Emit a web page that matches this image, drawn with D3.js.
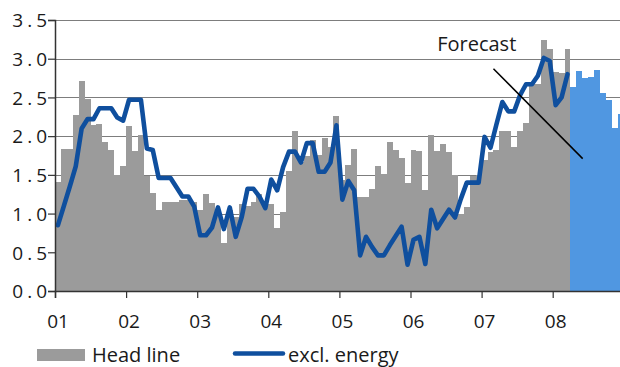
<!DOCTYPE html>
<html>
<head>
<meta charset="utf-8">
<script src="https://cdn.jsdelivr.net/npm/d3@7"></script>
<style>
  html, body { margin: 0; padding: 0; background: #fff; }
  svg { display: block; }
  text { font-family: "Open Sans", "Noto Sans", sans-serif; fill: #1a1a1a; }
</style>
</head>
<body>
<svg id="chart" width="620" height="367"></svg>
<script>
// ---------- data ----------
const yearLabels = ["01", "02", "03", "04", "05", "06", "07", "08"];
const yTicks = [0, 0.5, 1, 1.5, 2, 2.5, 3, 3.5];

// Head line (monthly, Jan 2001 - Mar 2008)
const headline = [
  1.41, 1.83, 1.83, 2.27, 2.71, 2.48, 2.15, 2.16, 1.92, 1.82, 1.50, 1.61,
  2.13, 1.81, 2.01, 1.49, 1.27, 1.05, 1.15, 1.15, 1.15, 1.18, 1.18, 1.15,
  1.05, 1.25, 1.14, 1.00, 0.62, 1.05, 0.95, 1.13, 1.10, 1.15, 1.25, 1.14,
  1.13, 0.82, 1.02, 1.55, 2.07, 1.66, 1.75, 1.95, 1.76, 1.97, 1.86, 2.26,
  1.43, 1.63, 1.83, 1.21, 1.21, 1.32, 1.61, 1.51, 1.92, 1.82, 1.72, 1.39,
  1.82, 1.81, 1.30, 2.01, 1.81, 1.90, 1.80, 1.50, 0.99, 1.09, 1.49, 1.50,
  1.69, 1.80, 1.82, 2.07, 2.07, 1.86, 2.06, 2.17, 2.67, 2.67, 3.24, 3.13,
  2.83, 2.82, 3.13
];
// Forecast (Apr 2008 - Dec 2008)
const forecast = [2.64, 2.84, 2.75, 2.76, 2.85, 2.56, 2.47, 2.11, 2.29];

// excl. energy (monthly, Jan 2001 - Mar 2008)
const exclEnergy = [
  0.85, 1.10, 1.35, 1.61, 2.10, 2.22, 2.22, 2.36, 2.36, 2.36, 2.24, 2.20,
  2.47, 2.47, 2.47, 1.84, 1.82, 1.46, 1.46, 1.46, 1.34, 1.22, 1.22, 1.09,
  0.72, 0.72, 0.82, 1.08, 0.80, 1.08, 0.70, 0.95, 1.32, 1.32, 1.22, 1.07,
  1.44, 1.30, 1.60, 1.80, 1.80, 1.66, 1.91, 1.91, 1.54, 1.54, 1.66, 2.14,
  1.18, 1.42, 1.30, 0.46, 0.70, 0.57, 0.46, 0.46, 0.59, 0.71, 0.83, 0.34,
  0.66, 0.70, 0.35, 1.05, 0.81, 0.93, 1.05, 0.95, 1.19, 1.40, 1.40, 1.40,
  1.99, 1.85, 2.15, 2.44, 2.32, 2.32, 2.53, 2.67, 2.67, 2.78, 3.01, 2.97,
  2.40, 2.50, 2.80
];

const seriesNames = ["Head line", "excl. energy"];
const annotationText = "Forecast";

// ---------- layout ----------
const svg = d3.select("#chart");
const plotLeft = 55, plotTop = 20, plotBottom = 291;
const monthsTotal = yearLabels.length * 12;
const x = d3.scaleLinear().domain([0, monthsTotal]).range([plotLeft, 623.8]);
const y = d3.scaleLinear().domain([0, 3.5]).range([plotBottom, plotTop]);

const colGray = "#9b9b9b";
const colBlueBar = "#5097e1";
const colLine = "#0f4f9e";

// gridlines
svg.append("g")
  .selectAll("line")
  .data(yTicks.filter(d => d > 0))
  .join("line")
  .attr("x1", plotLeft).attr("x2", 620)
  .attr("y1", d => Math.round(y(d)) + 0.5).attr("y2", d => Math.round(y(d)) + 0.5)
  .attr("stroke", "#7d7d7d").attr("stroke-width", 1);

// bars
const allBars = headline.map((v, i) => ({ i, v, f: false }))
  .concat(forecast.map((v, k) => ({ i: headline.length + k, v, f: true })));

svg.append("g")
  .attr("shape-rendering", "crispEdges")
  .selectAll("rect")
  .data(allBars)
  .join("rect")
  .attr("x", d => Math.round(x(d.i)))
  .attr("width", d => Math.round(x(d.i + 1)) - Math.round(x(d.i)))
  .attr("y", d => Math.round(y(d.v)))
  .attr("height", d => Math.round(y(0)) - Math.round(y(d.v)))
  .attr("fill", d => d.f ? colBlueBar : colGray);

// line
const line = d3.line()
  .x((d, i) => x(i + 0.5))
  .y(d => y(d))
  .curve(d3.curveLinear);

svg.append("path")
  .datum(exclEnergy)
  .attr("d", line)
  .attr("fill", "none")
  .attr("stroke", colLine)
  .attr("stroke-width", 4.6)
  .attr("stroke-linejoin", "round")
  .attr("stroke-linecap", "round");

// annotation
svg.append("line")
  .attr("x1", x(74.0)).attr("y1", y(2.87))
  .attr("x2", x(89.06)).attr("y2", y(1.71))
  .attr("stroke", "#000").attr("stroke-width", 1.5);
svg.append("text")
  .attr("x", x(64.5)).attr("y", y(3.1))
  .attr("font-size", 20)
  .text(annotationText);

// y axis
const yAxis = d3.axisLeft(y).tickValues(yTicks).tickSize(7).tickPadding(4)
  .tickFormat(d3.format(".1f"));
const gy = svg.append("g").attr("transform", `translate(${plotLeft},0)`).call(yAxis);
gy.select(".domain").attr("stroke", "#333").attr("stroke-width", 1.5);
gy.selectAll(".tick line").attr("stroke", "#333").attr("stroke-width", 1.2);
gy.selectAll(".tick text")
  .attr("font-size", 19)
  .attr("font-family", "'Open Sans', sans-serif")
  .attr("fill", "#1a1a1a")
  .attr("letter-spacing", "4px")
  .attr("x", -4)
  .attr("dy", "0.36em");

// x axis
const xAxis = d3.axisBottom(x)
  .tickValues(yearLabels.map((d, i) => i * 12))
  .tickSize(7).tickPadding(17)
  .tickFormat((d, i) => yearLabels[i]);
const gx = svg.append("g").attr("transform", `translate(0,${plotBottom})`).call(xAxis);
gx.select(".domain").attr("stroke", "#333").attr("stroke-width", 1.5);
gx.selectAll(".tick line").attr("stroke", "#333").attr("stroke-width", 1.2);
gx.selectAll(".tick text")
  .attr("font-size", 19)
  .attr("font-family", "'Open Sans', sans-serif")
  .attr("fill", "#1a1a1a")
  .attr("dx", 2.5);

// legend
const lg = svg.append("g");
lg.append("rect").attr("x", 37).attr("y", 349).attr("width", 48).attr("height", 12).attr("fill", colGray);
lg.append("text").attr("x", 92).attr("y", 362).attr("font-size", 20).text(seriesNames[0]);
lg.append("line").attr("x1", 235).attr("x2", 283).attr("y1", 353.5).attr("y2", 353.5)
  .attr("stroke", colLine).attr("stroke-width", 4.5).attr("stroke-linecap", "round");
lg.append("text").attr("x", 288).attr("y", 362).attr("font-size", 20).text(seriesNames[1]);
</script>
</body>
</html>
